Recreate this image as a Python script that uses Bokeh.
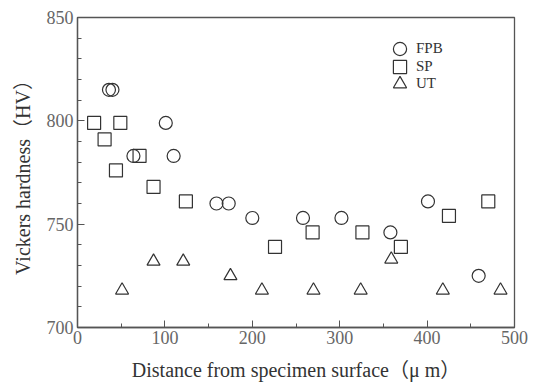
from bokeh.plotting import figure
from bokeh.embed import file_html
from bokeh.resources import INLINE
from bokeh.models import Range1d, FixedTicker, Legend, LegendItem

fpb_x = [36, 40, 64, 101, 110, 159, 173, 200, 258, 302, 358, 401, 459]
fpb_y = [815, 815, 783, 799, 783, 760, 760, 753, 753, 753, 746, 761, 725]
sp_x = [19, 31, 44, 49, 71, 87, 124, 226, 269, 326, 370, 425, 470]
sp_y = [799, 791, 776, 799, 783, 768, 761, 739, 746, 746, 739, 754, 761]
ut_x = [51, 87, 121, 175, 211, 270, 324, 359, 418, 484]
ut_y = [718, 732, 732, 725, 718, 718, 718, 733, 718, 718]
x_ticks = [0, 100, 200, 300, 400, 500]
y_ticks = [700, 750, 800, 850]
series_names = ["FPB", "SP", "UT"]

SERIF = "'Liberation Serif', 'Noto Sans CJK JP'"
INK = "#333333"
AX = "#555555"

p = figure(output_backend="svg", toolbar_location=None,
           frame_width=437, frame_height=310,
           min_border_left=77, min_border_top=17, min_border_right=16, min_border_bottom=53,
           x_range=Range1d(0, 500), y_range=Range1d(700, 850))
p.background_fill_color = "white"
p.border_fill_color = "white"
p.grid.visible = False
p.outline_line_color = AX
p.outline_line_width = 1.3

r1 = p.scatter(fpb_x, fpb_y, marker="circle", size=13, fill_color=None, line_color=INK, line_width=1.2)
r2 = p.scatter(sp_x, sp_y, marker="square", size=13, fill_color=None, line_color=INK, line_width=1.2)
r3 = p.scatter(ut_x, ut_y, marker="triangle", size=13, fill_color=None, line_color=INK, line_width=1.2)

# one legend per series so that legend symbols can be as large as the plotted markers
for i, (name, r) in enumerate(zip(series_names, [r1, r2, r3])):
    lg = Legend(items=[LegendItem(label=name, renderers=[r])],
                location=(306, 262 - 17.5 * i), border_line_color=None, background_fill_alpha=0,
                label_text_font=SERIF, label_text_font_size="15px", label_text_color=INK,
                glyph_width=33, glyph_height=33, label_height=33, spacing=0, padding=4,
                margin=0, label_standoff=-4)
    p.add_layout(lg, "center")

for ax in (p.xaxis[0], p.yaxis[0]):
    ax.axis_line_color = AX
    ax.axis_line_width = 1.3
    ax.major_tick_line_color = AX
    ax.minor_tick_line_color = AX
    ax.major_tick_in = 7
    ax.major_tick_out = 0
    ax.minor_tick_in = 4
    ax.minor_tick_out = 0
    ax.major_label_text_font = SERIF
    ax.major_label_text_font_size = "18px"
    ax.major_label_text_color = "#666666"
    ax.axis_label_text_font = SERIF
    ax.axis_label_text_font_size = "20px"
    ax.axis_label_text_font_style = "normal"
    ax.axis_label_text_color = INK

p.xaxis[0].ticker = FixedTicker(ticks=x_ticks, minor_ticks=[50, 150, 250, 350, 450])
p.yaxis[0].ticker = FixedTicker(ticks=y_ticks, minor_ticks=list(range(700, 851, 10)))
p.xaxis[0].axis_label = "Distance from specimen surface（μ m）"
p.yaxis[0].axis_label = "Vickers hardness（HV）"
p.xaxis[0].major_label_standoff = 3
p.yaxis[0].major_label_standoff = 4
p.xaxis[0].axis_label_standoff = 12
p.yaxis[0].axis_label_standoff = 10

open("out.html", "w").write(file_html(p, INLINE))
